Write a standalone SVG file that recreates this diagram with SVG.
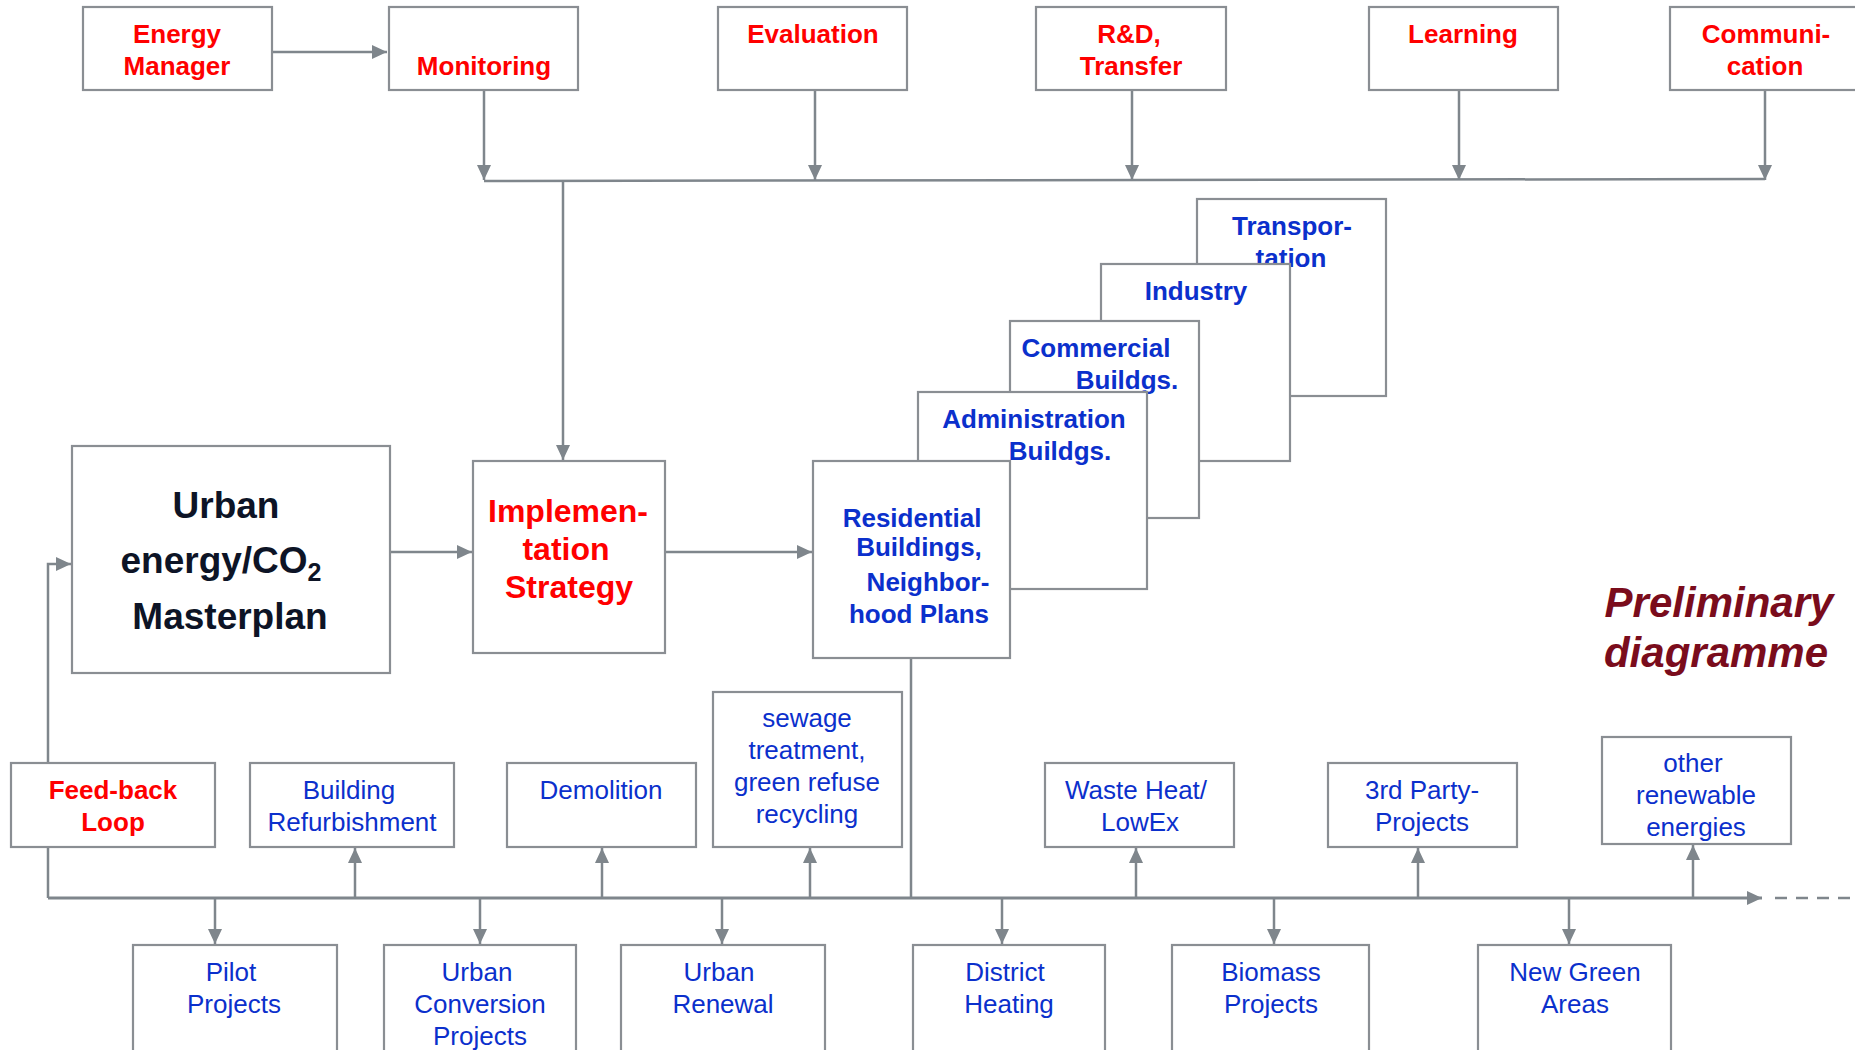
<svg xmlns="http://www.w3.org/2000/svg" width="1855" height="1050" viewBox="0 0 1855 1050">
<style>
.box{fill:#fff;stroke:#8a8e93;stroke-width:2.2}
.ln{fill:none;stroke:#7f868c;stroke-width:2.5}
.t{font-family:"Liberation Sans",Arial,sans-serif;text-anchor:middle}
.red{fill:#ff0000;font-weight:bold;font-size:26px}
.sec{fill:#0b30cc;font-weight:bold;font-size:26px}
.reg{fill:#0b30cc;font-size:26px}
.mp{font-weight:bold;font-size:37px;fill:#0d1426}
.im{font-weight:bold;font-size:32px;fill:#ff0000}
.pr{font-weight:bold;font-style:italic;font-size:42px;fill:#7a0c1c}
</style>
<defs>
<marker id="ah" markerUnits="userSpaceOnUse" markerWidth="15" markerHeight="14" refX="15" refY="7" orient="auto">
<path d="M0,0 L15,7 L0,14 z" fill="#7f868c"/>
</marker>
</defs>
<rect width="1855" height="1050" fill="#fff"/>
<g id="connectors">
<path class="ln" d="M272,52 H387" marker-end="url(#ah)"/>
<path class="ln" d="M484,90 V180" marker-end="url(#ah)"/>
<path class="ln" d="M815,90 V180" marker-end="url(#ah)"/>
<path class="ln" d="M1132,90 V180" marker-end="url(#ah)"/>
<path class="ln" d="M1459,90 V180" marker-end="url(#ah)"/>
<path class="ln" d="M1765,90 V180" marker-end="url(#ah)"/>
<path class="ln" d="M484,181 L1765,179"/>
<path class="ln" d="M563,181 V460" marker-end="url(#ah)"/>
<path class="ln" d="M390,552 H472" marker-end="url(#ah)"/>
<path class="ln" d="M665,552 H812" marker-end="url(#ah)"/>
<path class="ln" d="M911,658 V898"/>
<path class="ln" style="stroke-width:3" d="M48,898 H1762" marker-end="url(#ah)"/>
<path class="ln" style="stroke-dasharray:12 9" d="M1775,898 H1855"/>
<path class="ln" d="M48,898 V564 H71" marker-end="url(#ah)"/>
<path class="ln" d="M355,898 V848" marker-end="url(#ah)"/>
<path class="ln" d="M602,898 V848" marker-end="url(#ah)"/>
<path class="ln" d="M810,898 V848" marker-end="url(#ah)"/>
<path class="ln" d="M1136,898 V848" marker-end="url(#ah)"/>
<path class="ln" d="M1418,898 V848" marker-end="url(#ah)"/>
<path class="ln" d="M1693,898 V845" marker-end="url(#ah)"/>
<path class="ln" d="M215,898 V944" marker-end="url(#ah)"/>
<path class="ln" d="M480,898 V944" marker-end="url(#ah)"/>
<path class="ln" d="M722,898 V944" marker-end="url(#ah)"/>
<path class="ln" d="M1002,898 V944" marker-end="url(#ah)"/>
<path class="ln" d="M1274,898 V944" marker-end="url(#ah)"/>
<path class="ln" d="M1569,898 V944" marker-end="url(#ah)"/>
</g>
<g id="energy-manager"><rect class="box" x="83" y="7" width="189" height="83"/>
<text class="t red" x="177" y="43">Energy</text><text class="t red" x="177" y="75">Manager</text></g>
<g id="monitoring"><rect class="box" x="389" y="7" width="189" height="83"/>
<text class="t red" x="484" y="75">Monitoring</text></g>
<g id="evaluation"><rect class="box" x="718" y="7" width="189" height="83"/>
<text class="t red" x="813" y="43">Evaluation</text></g>
<g id="rd-transfer"><rect class="box" x="1036" y="7" width="190" height="83"/>
<text class="t red" x="1129" y="43">R&amp;D,</text><text class="t red" x="1131" y="75">Transfer</text></g>
<g id="learning"><rect class="box" x="1369" y="7" width="189" height="83"/>
<text class="t red" x="1463" y="43">Learning</text></g>
<g id="communication"><rect class="box" x="1670" y="7" width="190" height="83"/>
<text class="t red" x="1766" y="43">Communi-</text><text class="t red" x="1765" y="75">cation</text></g>
<g id="masterplan"><rect class="box" x="72" y="446" width="318" height="227"/>
<text class="t mp" x="226" y="518">Urban</text>
<text class="t mp" x="221" y="573">energy/CO<tspan style="font-size:25px" dy="8">2</tspan></text>
<text class="t mp" x="230" y="629">Masterplan</text></g>
<g id="implementation"><rect class="box" x="473" y="461" width="192" height="192"/>
<text class="t im" x="568" y="522">Implemen-</text>
<text class="t im" x="566" y="560">tation</text>
<text class="t im" x="569" y="598">Strategy</text></g>
<g id="transportation"><rect class="box" x="1197" y="199" width="189" height="197"/>
<text class="t sec" x="1292" y="235">Transpor-</text><text class="t sec" x="1291" y="267">tation</text></g>
<g id="industry"><rect class="box" x="1101" y="264" width="189" height="197"/>
<text class="t sec" x="1196" y="300">Industry</text></g>
<g id="commercial"><rect class="box" x="1010" y="321" width="189" height="197"/>
<text class="t sec" x="1096" y="357">Commercial</text><text class="t sec" x="1127" y="389">Buildgs.</text></g>
<g id="administration"><rect class="box" x="918" y="392" width="229" height="197"/>
<text class="t sec" x="1034" y="428">Administration</text><text class="t sec" x="1060" y="460">Buildgs.</text></g>
<g id="residential"><rect class="box" x="813" y="461" width="197" height="197"/>
<text class="t sec" x="912" y="527">Residential</text><text class="t sec" x="919" y="556">Buildings,</text>
<text class="t sec" x="928" y="591">Neighbor-</text><text class="t sec" x="919" y="623">hood Plans</text></g>
<g id="feedback"><rect class="box" x="11" y="763" width="204" height="84"/>
<text class="t red" x="113" y="799">Feed-back</text><text class="t red" x="113" y="831">Loop</text></g>
<g id="building-refurbishment"><rect class="box" x="250" y="763" width="204" height="84"/>
<text class="t reg" x="349" y="799">Building</text><text class="t reg" x="352" y="831">Refurbishment</text></g>
<g id="demolition"><rect class="box" x="507" y="763" width="189" height="84"/>
<text class="t reg" x="601" y="799">Demolition</text></g>
<g id="sewage"><rect class="box" x="713" y="692" width="189" height="155"/>
<text class="t reg" x="807" y="727">sewage</text><text class="t reg" x="807" y="759">treatment,</text>
<text class="t reg" x="807" y="791">green refuse</text><text class="t reg" x="807" y="823">recycling</text></g>
<g id="waste-heat"><rect class="box" x="1045" y="763" width="189" height="84"/>
<text class="t reg" x="1136" y="799">Waste Heat/</text><text class="t reg" x="1140" y="831">LowEx</text></g>
<g id="third-party"><rect class="box" x="1328" y="763" width="189" height="84"/>
<text class="t reg" x="1422" y="799">3rd Party-</text><text class="t reg" x="1422" y="831">Projects</text></g>
<g id="other-renewable"><rect class="box" x="1602" y="737" width="189" height="107"/>
<text class="t reg" x="1693" y="772">other</text><text class="t reg" x="1696" y="804">renewable</text><text class="t reg" x="1696" y="836">energies</text></g>
<g id="pilot"><rect class="box" x="133" y="945" width="204" height="120"/>
<text class="t reg" x="231" y="981">Pilot</text><text class="t reg" x="234" y="1013">Projects</text></g>
<g id="urban-conversion"><rect class="box" x="384" y="945" width="192" height="120"/>
<text class="t reg" x="477" y="981">Urban</text><text class="t reg" x="480" y="1013">Conversion</text><text class="t reg" x="480" y="1045">Projects</text></g>
<g id="urban-renewal"><rect class="box" x="621" y="945" width="204" height="120"/>
<text class="t reg" x="719" y="981">Urban</text><text class="t reg" x="723" y="1013">Renewal</text></g>
<g id="district-heating"><rect class="box" x="913" y="945" width="192" height="120"/>
<text class="t reg" x="1005" y="981">District</text><text class="t reg" x="1009" y="1013">Heating</text></g>
<g id="biomass"><rect class="box" x="1172" y="945" width="197" height="120"/>
<text class="t reg" x="1271" y="981">Biomass</text><text class="t reg" x="1271" y="1013">Projects</text></g>
<g id="new-green"><rect class="box" x="1478" y="945" width="193" height="120"/>
<text class="t reg" x="1575" y="981">New Green</text><text class="t reg" x="1575" y="1013">Areas</text></g>
<g id="preliminary">
<text class="t pr" x="1719" y="617">Preliminary</text>
<text class="t pr" x="1716" y="667">diagramme</text>
</g>
</svg>
